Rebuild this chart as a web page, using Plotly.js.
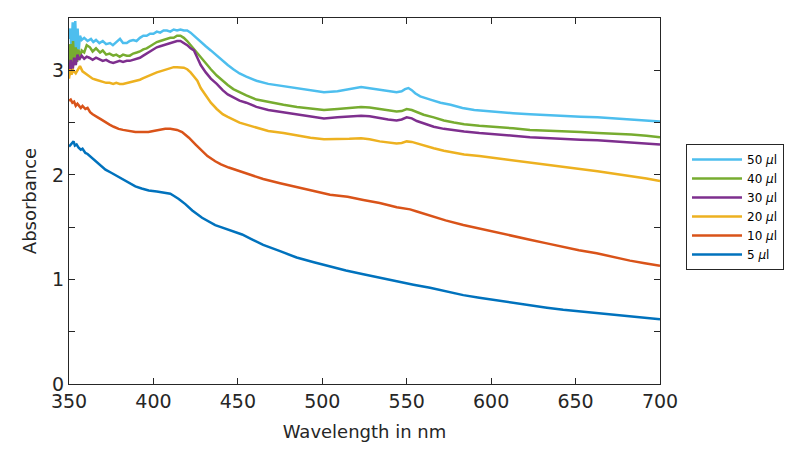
<!DOCTYPE html>
<html>
<head>
<meta charset="utf-8">
<script src="https://cdn.plot.ly/plotly-3.0.1.min.js"></script>
<style>html,body{margin:0;padding:0;background:#fff;}#chart{width:800px;height:449px;}</style>
</head>
<body>
<div id="chart"></div>
<script>
// 50 µl
const wl50 = [350,350.8,351.5,352.2,353,353.7,354.4,355.1,355.8,356.5,357.5,359,361,363,364.4,366,368,370,372,374.3,376,378,380.2,382,384.2,386,388,390,392,394,396,398,400,402,404,406,408,410,412,414,416,418,420,422,424,426,428,431,434,437.5,441,444,447.3,451,455,461,468,477,485,493,501,509,516,520,523,527,531,534,539,544,547,549,551,553,555,558,564,570,576,583,590,603,613,623,633,643,653,663,673,683,692,700];
const abs50 = [3.30,3.40,3.18,3.46,3.12,3.47,3.15,3.40,3.20,3.33,3.29,3.31,3.28,3.30,3.27,3.29,3.26,3.28,3.25,3.26,3.24,3.27,3.30,3.26,3.26,3.28,3.29,3.28,3.31,3.33,3.33,3.35,3.35,3.37,3.36,3.38,3.38,3.37,3.39,3.38,3.39,3.38,3.38,3.36,3.33,3.30,3.27,3.23,3.19,3.14,3.09,3.05,3.01,2.97,2.94,2.90,2.87,2.85,2.83,2.81,2.79,2.80,2.82,2.83,2.84,2.83,2.82,2.81,2.80,2.79,2.80,2.82,2.83,2.81,2.78,2.75,2.72,2.69,2.67,2.64,2.62,2.60,2.59,2.58,2.57,2.56,2.555,2.55,2.54,2.53,2.52,2.51];
// 40 µl
const wl40 = [350,350.8,351.6,352.4,353.2,354,354.8,355.6,356.5,357.5,359,360.5,362.4,364,366,368.4,370,372,374,376.2,378,380,382,384.2,386,388,390.1,392,394,396,398,400,402,404,406,408,410,412,414,416,418,420,422,424,426,428,431,434,437.5,441,444,447.3,451,455,461,468,477,485,493,501,509,516,523,528,534,539,544,547,550,553,556,560,566,572,578,584,593,603,613,623,633,643,653,663,673,683,692,700];
const abs40 = [3.05,3.25,3.00,3.28,3.05,3.22,3.08,3.20,3.12,3.19,3.17,3.24,3.22,3.18,3.21,3.17,3.19,3.15,3.16,3.14,3.15,3.13,3.15,3.14,3.14,3.16,3.17,3.18,3.20,3.21,3.23,3.25,3.27,3.28,3.29,3.30,3.31,3.31,3.33,3.33,3.31,3.28,3.24,3.20,3.17,3.13,3.07,3.01,2.95,2.90,2.86,2.82,2.79,2.76,2.72,2.695,2.67,2.65,2.635,2.62,2.63,2.64,2.65,2.645,2.63,2.62,2.605,2.61,2.63,2.62,2.60,2.575,2.55,2.52,2.50,2.485,2.47,2.46,2.445,2.43,2.425,2.42,2.41,2.40,2.395,2.385,2.375,2.36];
// 30 µl
const wl30 = [350,351,352,353,354,355,356,357.5,359,360.5,362,364,366,368.4,370,372,374,376.2,378,380,382,384.2,386,388,390,392,394,396,398,400,402,404,406,408,410,412,414,416,418,420,422,424,426,428,431,434,437.5,441,444,447.3,451,455,461,468,477,485,493,501,509,516,523,528,534,539,544,547,550,553,556,560,566,572,578,584,593,603,613,623,633,643,653,663,673,683,692,700];
const abs30 = [2.95,3.10,2.98,3.12,3.05,3.15,3.10,3.14,3.11,3.13,3.12,3.10,3.12,3.105,3.09,3.10,3.08,3.07,3.08,3.09,3.08,3.09,3.09,3.10,3.11,3.12,3.14,3.16,3.18,3.20,3.22,3.23,3.24,3.25,3.26,3.27,3.28,3.28,3.26,3.24,3.21,3.19,3.12,3.05,2.98,2.92,2.87,2.81,2.77,2.74,2.71,2.69,2.65,2.62,2.60,2.58,2.56,2.54,2.55,2.56,2.565,2.56,2.54,2.53,2.52,2.53,2.55,2.54,2.515,2.49,2.46,2.44,2.425,2.415,2.40,2.39,2.375,2.36,2.35,2.345,2.335,2.33,2.32,2.31,2.30,2.29];
// 20 µl
const wl20 = [350,350.7,351.5,352.5,354,355.5,356.5,358,360.5,362,364,366,368.4,370,372,374,376.2,378,380,382,384.2,386,388,390,392,394,396,398,400,402,404,406,408,410,412,414,416,418,420,422,424,426,428,431,434,437.5,441,444,447.3,451,455,461,468,477,485,493,501,509,516,523,528,534,539,544,547,550,553,556,560,566,572,578,584,593,603,613,623,633,643,653,663,673,683,692,700];
const abs20 = [2.92,3.01,2.96,3.00,2.97,3.02,3.04,2.99,2.96,2.94,2.92,2.91,2.90,2.89,2.88,2.88,2.87,2.88,2.87,2.87,2.88,2.885,2.89,2.90,2.91,2.925,2.94,2.95,2.965,2.98,2.99,3.00,3.01,3.02,3.03,3.03,3.03,3.025,3.01,2.98,2.94,2.90,2.83,2.76,2.69,2.63,2.58,2.555,2.53,2.50,2.48,2.45,2.42,2.40,2.375,2.355,2.34,2.34,2.345,2.35,2.34,2.32,2.31,2.30,2.305,2.32,2.315,2.30,2.28,2.255,2.23,2.21,2.195,2.18,2.16,2.14,2.115,2.10,2.08,2.06,2.035,2.01,1.99,1.965,1.94];
// 10 µl
const wl10 = [350,351,352,353,354,355,356,357,358,359.7,361,362.5,364,365.6,367,369,371.6,374,376.5,379.4,382,385,389.3,393,397,400,404,407,410,414,417,421,425,428.8,432,436.6,440,444.6,452.5,458,465,475,484.8,495,504.6,515,524.3,534,544.1,549,552,556,563.8,573,583.5,593,603.3,613,623,633,642.7,652,662.5,672,682.2,691,700];
const abs10 = [2.71,2.72,2.69,2.70,2.66,2.68,2.66,2.64,2.66,2.63,2.64,2.60,2.58,2.56,2.55,2.53,2.50,2.48,2.46,2.44,2.43,2.42,2.41,2.41,2.41,2.42,2.43,2.44,2.44,2.43,2.41,2.355,2.29,2.23,2.18,2.13,2.10,2.07,2.03,2.00,1.96,1.92,1.88,1.845,1.81,1.79,1.76,1.73,1.69,1.675,1.67,1.65,1.61,1.565,1.52,1.485,1.45,1.415,1.38,1.345,1.31,1.28,1.25,1.215,1.18,1.155,1.13];
// 5 µl
const wl5 = [350,351,352,352.7,353.5,354.5,355.7,357,358,359.7,361,362.5,364,365.6,368,371.6,375,379.4,384,389.3,393,397.2,402,407,410,412,415,418.9,423,428.8,432,436.6,440,445.3,452.5,458,465,475,484.8,495,504.6,514,524.3,534,544.1,554,563.8,573,583.5,593,603.3,613,623,633,642.7,652,662.5,672,682.2,691,700];
const abs5 = [2.27,2.29,2.30,2.32,2.28,2.29,2.26,2.24,2.25,2.21,2.20,2.18,2.16,2.13,2.10,2.05,2.02,1.98,1.935,1.89,1.87,1.85,1.84,1.83,1.82,1.80,1.77,1.72,1.66,1.59,1.56,1.52,1.50,1.47,1.43,1.385,1.33,1.27,1.21,1.165,1.125,1.085,1.05,1.015,0.98,0.95,0.92,0.885,0.85,0.825,0.80,0.775,0.75,0.73,0.71,0.695,0.68,0.66,0.645,0.63,0.62];

const seriesNames = ['50 <i>μ</i>l','40 <i>μ</i>l','30 <i>μ</i>l','20 <i>μ</i>l','10 <i>μ</i>l','5 <i>μ</i>l'];
const seriesX = [wl50, wl40, wl30, wl20, wl10, wl5];
const seriesY = [abs50, abs40, abs30, abs20, abs10, abs5];
const seriesColors = ['#4DBEEE','#77AC30','#7E2F8E','#EDB120','#D95319','#0072BD'];

const yTickVals = [0,0.5,1,1.5,2,2.5,3,3.5];
const yTickText = ['0','','1','','2','','3',''];
const xTickVals = [350,400,450,500,550,600,650,700];

const traces = seriesNames.map((n,i)=>({
  x: seriesX[i], y: seriesY[i], name: n, type: 'scatter', mode: 'lines',
  line: {color: seriesColors[i], width: 2.5}
}));

const axisCommon = {
  showline: true, linecolor: '#262626', linewidth: 1, mirror: 'ticks',
  ticks: 'inside', ticklen: 6, tickwidth: 1, tickcolor: '#262626',
  showgrid: false, zeroline: false,
  tickfont: {family: 'DejaVu Sans', size: 19, color: '#262626'}
};

const layout = {
  width: 800, height: 449,
  margin: {l: 69, r: 140, t: 18, b: 65},
  paper_bgcolor: '#fff', plot_bgcolor: '#fff',
  font: {family: 'DejaVu Sans', color: '#262626'},
  xaxis: Object.assign({}, axisCommon, {
    range: [350, 700], tickvals: xTickVals,
    title: {text: 'Wavelength in nm', font: {family: 'DejaVu Sans', size: 18, color: '#262626'}, standoff: 14}
  }),
  yaxis: Object.assign({}, axisCommon, {
    range: [0, 3.5], tickvals: yTickVals, ticktext: yTickText,
    title: {text: 'Absorbance', font: {family: 'DejaVu Sans', size: 18, color: '#262626'}, standoff: 10}
  }),
  showlegend: true,
  legend: {
    x: 1.044, xanchor: 'left', y: 0.656, yanchor: 'top',
    bgcolor: '#fff', bordercolor: '#262626', borderwidth: 1,
    font: {family: 'DejaVu Sans', size: 12, color: '#000'},
    itemwidth: 50, tracegroupgap: 0
  }
};

Plotly.newPlot('chart', traces, layout, {displayModeBar: false, staticPlot: true});
</script>
</body>
</html>
